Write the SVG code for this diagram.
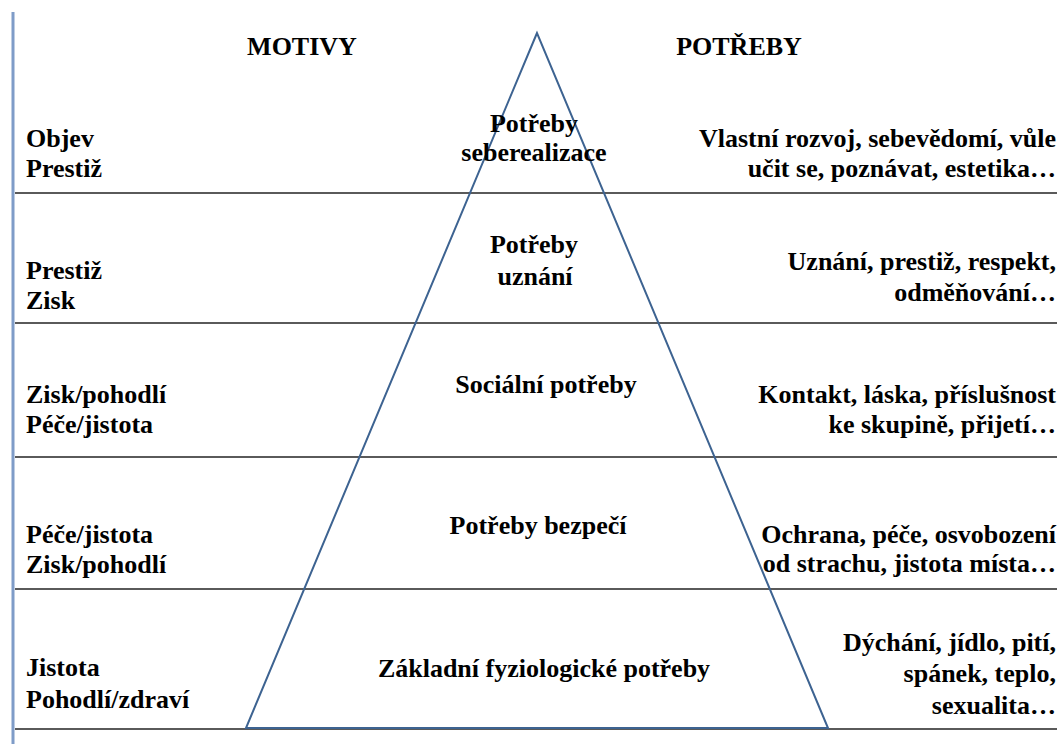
<svg xmlns="http://www.w3.org/2000/svg" width="1057" height="744" viewBox="0 0 1057 744">
<rect width="1057" height="744" fill="#fff"/>
<g id="frame">
<line x1="13" y1="12" x2="13" y2="744" stroke="#7f9cc8" stroke-width="3"/>
<line x1="15" y1="193" x2="1057" y2="193" stroke="#5a5a5a" stroke-width="2"/>
<line x1="15" y1="323" x2="1057" y2="323" stroke="#5a5a5a" stroke-width="2"/>
<line x1="15" y1="457" x2="1057" y2="457" stroke="#5a5a5a" stroke-width="2"/>
<line x1="15" y1="589" x2="1057" y2="589" stroke="#5a5a5a" stroke-width="2"/>
<line x1="15" y1="729" x2="1057" y2="729" stroke="#5a5a5a" stroke-width="2"/>
</g>
<g id="pyramid">
<polygon points="537,33 246,728 828,728" fill="none" stroke="#3d6391" stroke-width="2"/>
</g>
<g id="headers">
<text x="302" y="55" font-family="Liberation Serif" font-weight="bold" font-size="26" text-anchor="middle">MOTIVY</text>
<text x="739" y="55" font-family="Liberation Serif" font-weight="bold" font-size="26" text-anchor="middle">POTŘEBY</text>
</g>
<g id="motivy">
<text x="26" y="147" font-family="Liberation Serif" font-weight="bold" font-size="26">Objev</text>
<text x="26" y="177" font-family="Liberation Serif" font-weight="bold" font-size="26">Prestiž</text>
<text x="26" y="279" font-family="Liberation Serif" font-weight="bold" font-size="26">Prestiž</text>
<text x="26" y="309" font-family="Liberation Serif" font-weight="bold" font-size="26">Zisk</text>
<text x="26" y="403" font-family="Liberation Serif" font-weight="bold" font-size="26">Zisk/pohodlí</text>
<text x="26" y="433" font-family="Liberation Serif" font-weight="bold" font-size="26">Péče/jistota</text>
<text x="26" y="543" font-family="Liberation Serif" font-weight="bold" font-size="26">Péče/jistota</text>
<text x="26" y="573" font-family="Liberation Serif" font-weight="bold" font-size="26">Zisk/pohodlí</text>
<text x="26" y="676" font-family="Liberation Serif" font-weight="bold" font-size="26">Jistota</text>
<text x="26" y="708" font-family="Liberation Serif" font-weight="bold" font-size="26">Pohodlí/zdraví</text>
</g>
<g id="levels">
<text x="534" y="132" font-family="Liberation Serif" font-weight="bold" font-size="26" text-anchor="middle">Potřeby</text>
<text x="534" y="161" font-family="Liberation Serif" font-weight="bold" font-size="26" text-anchor="middle">seberealizace</text>
<text x="534" y="253" font-family="Liberation Serif" font-weight="bold" font-size="26" text-anchor="middle">Potřeby</text>
<text x="535" y="285" font-family="Liberation Serif" font-weight="bold" font-size="26" text-anchor="middle">uznání</text>
<text x="546" y="393" font-family="Liberation Serif" font-weight="bold" font-size="26" text-anchor="middle">Sociální potřeby</text>
<text x="538" y="534" font-family="Liberation Serif" font-weight="bold" font-size="26" text-anchor="middle">Potřeby bezpečí</text>
<text x="544" y="677" font-family="Liberation Serif" font-weight="bold" font-size="26" text-anchor="middle">Základní fyziologické potřeby</text>
</g>
<g id="potreby">
<text x="1056" y="147" font-family="Liberation Serif" font-weight="bold" font-size="26" text-anchor="end">Vlastní rozvoj, sebevědomí, vůle</text>
<text x="1056" y="177" font-family="Liberation Serif" font-weight="bold" font-size="26" text-anchor="end">učit se, poznávat, estetika…</text>
<text x="1056" y="270" font-family="Liberation Serif" font-weight="bold" font-size="26" text-anchor="end">Uznání, prestiž, respekt,</text>
<text x="1056" y="301" font-family="Liberation Serif" font-weight="bold" font-size="26" text-anchor="end">odměňování…</text>
<text x="1056" y="403" font-family="Liberation Serif" font-weight="bold" font-size="26" text-anchor="end">Kontakt, láska, příslušnost</text>
<text x="1056" y="433" font-family="Liberation Serif" font-weight="bold" font-size="26" text-anchor="end">ke skupině, přijetí…</text>
<text x="1056" y="543" font-family="Liberation Serif" font-weight="bold" font-size="26" text-anchor="end">Ochrana, péče, osvobození</text>
<text x="1056" y="572" font-family="Liberation Serif" font-weight="bold" font-size="26" text-anchor="end">od strachu, jistota místa…</text>
<text x="1056" y="651" font-family="Liberation Serif" font-weight="bold" font-size="26" text-anchor="end">Dýchání, jídlo, pití,</text>
<text x="1056" y="682" font-family="Liberation Serif" font-weight="bold" font-size="26" text-anchor="end">spánek, teplo,</text>
<text x="1056" y="714" font-family="Liberation Serif" font-weight="bold" font-size="26" text-anchor="end">sexualita…</text>
</g>
</svg>
